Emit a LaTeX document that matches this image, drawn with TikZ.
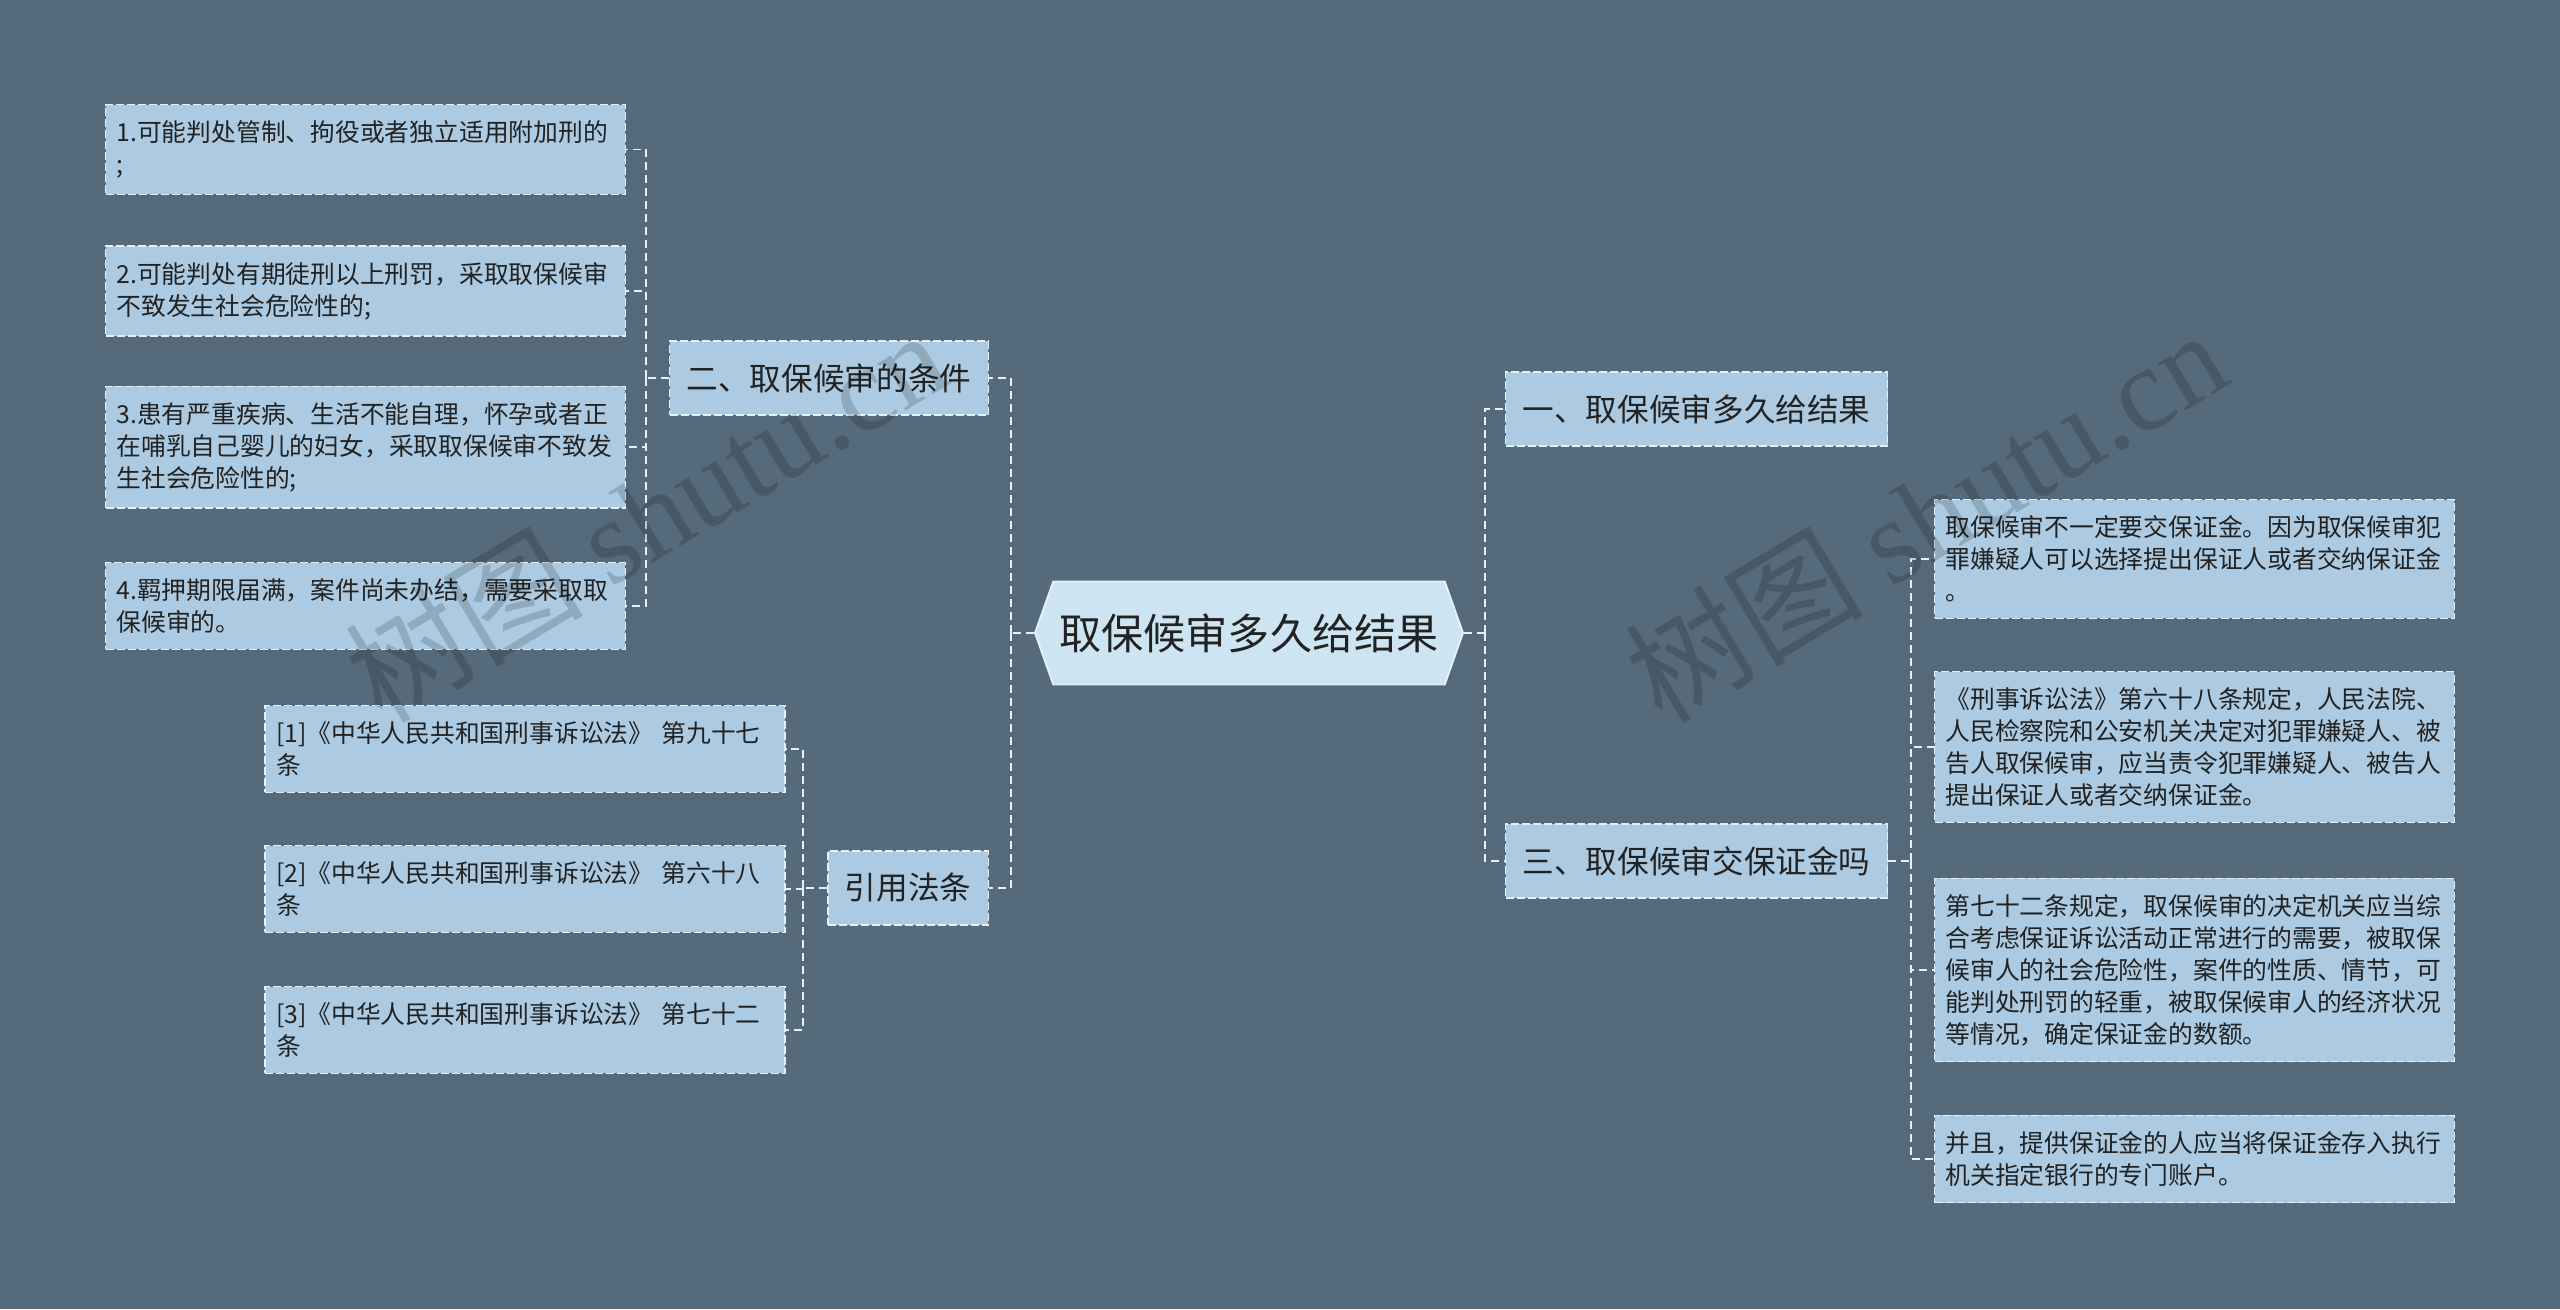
\documentclass[tikz,border=0pt]{standalone}
\usepackage{fontspec}
\setmainfont{Noto Sans CJK SC}
\newfontfamily\wmlatin{Liberation Serif}
\usepackage{tikz}
\usetikzlibrary{shapes.symbols}
\definecolor{mbg}{HTML}{556A7A}
\definecolor{mbox}{HTML}{ACCBE2}
\definecolor{mroot}{HTML}{CDE5F2}
\definecolor{mline}{HTML}{E3F0F7}
\definecolor{mtext}{HTML}{222222}
\tikzset{
  % dashed light rim around every topic box
  leaf/.style   = {rectangle, draw=mline, fill=mbox, line width=0.8pt,
                   dash pattern=on 0.16cm off 0.06cm, text=mtext,
                   align=left, text width=9.96cm, inner xsep=0.22cm, inner ysep=0.32cm,
                   font=\fontsize{14.1pt}{18.2pt}\selectfont},
  branch/.style = {rectangle, draw=mline, fill=mbox, line width=0.8pt,
                   dash pattern=on 0.16cm off 0.06cm, text=mtext,
                   inner xsep=0.34cm, minimum height=1.48cm,
                   font=\fontsize{18pt}{22pt}\selectfont},
  hub/.style    = {signal, signal to=west and east, signal pointer angle=141,
                   draw=mline, fill=mroot, line width=1.1pt, text=mtext,
                   minimum width=8.56cm, minimum height=2.06cm,
                   font=\fontsize{24pt}{28pt}\selectfont},
  link/.style   = {draw=mline, line width=1.1pt, dash pattern=on 0.16cm off 0.1cm},
  wmark/.style  = {text=black, opacity=0.16, font=\fontsize{68pt}{68pt}\selectfont},
}

\begin{document}
\begin{tikzpicture}[x=0.02cm,y=-0.02cm]
\fill[mbg] (0,0) rectangle (2560,1309);
\useasboundingbox (0,0) rectangle (2560,1309);
% centre
\node[hub] (root) at (1249,633) {取保候审多久给结果};
% left side
\node[branch, anchor=east] (cond) at (989,378) {二、取保候审的条件};
\node[branch, anchor=east] (refs) at (989,888) {引用法条};
\node[leaf] (c1) at (365.5,149.5) {1.可能判处管制、拘役或者独立适用附加刑的\\;};
\node[leaf] (c2) at (365.5,291) {2.可能判处有期徒刑以上刑罚，采取取保候审\\不致发生社会危险性的;};
\node[leaf] (c3) at (365.5,447) {3.患有严重疾病、生活不能自理，怀孕或者正\\在哺乳自己婴儿的妇女，采取取保候审不致发\\生社会危险性的;};
\node[leaf] (c4) at (365.5,606) {4.羁押期限届满，案件尚未办结，需要采取取\\保候审的。};
\node[leaf] (f1) at (525,749) {[1]《中华人民共和国刑事诉讼法》 第九十七\\条};
\node[leaf] (f2) at (525,889) {[2]《中华人民共和国刑事诉讼法》 第六十八\\条};
\node[leaf] (f3) at (525,1030) {[3]《中华人民共和国刑事诉讼法》 第七十二\\条};
% right side
\node[branch, anchor=west] (b1) at (1505,409) {一、取保候审多久给结果};
\node[branch, anchor=west] (b3) at (1505,861) {三、取保候审交保证金吗};
\node[leaf] (d1) at (2194.5,559) {取保候审不一定要交保证金。因为取保候审犯\\罪嫌疑人可以选择提出保证人或者交纳保证金\\。};
\node[leaf] (d2) at (2194.5,747) {《刑事诉讼法》第六十八条规定，人民法院、\\人民检察院和公安机关决定对犯罪嫌疑人、被\\告人取保候审，应当责令犯罪嫌疑人、被告人\\提出保证人或者交纳保证金。};
\node[leaf] (d3) at (2194.5,970) {第七十二条规定，取保候审的决定机关应当综\\合考虑保证诉讼活动正常进行的需要，被取保\\候审人的社会危险性，案件的性质、情节，可\\能判处刑罚的轻重，被取保候审人的经济状况\\等情况，确定保证金的数额。};
\node[leaf] (d4) at (2194.5,1159) {并且，提供保证金的人应当将保证金存入执行\\机关指定银行的专门账户。};
% connectors
\coordinate (jl) at ([xshift=-0.46cm]root.west);
\coordinate (jr) at ([xshift=0.42cm]root.east);
\coordinate (jc) at ([xshift=-0.46cm]cond.west);
\coordinate (jf) at ([xshift=-0.48cm]refs.west);
\coordinate (jd) at ([xshift=0.46cm]b3.east);
\draw[link] (root.west) -- (jl);
\draw[link] (root.east) -- (jr);
\draw[link] (cond.west) -- (jc);
\draw[link] (refs.west) -- (jf);
\draw[link] (b3.east) -- (jd);
\foreach \n in {cond,refs} {\draw[link] (jl) |- (\n.east);}
\foreach \n in {b1,b3} {\draw[link] (jr) |- (\n.west);}
\foreach \n in {c1,c2,c3,c4} {\draw[link] (jc) |- (\n.east);}
\foreach \n in {f1,f2,f3} {\draw[link] (jf) |- (\n.east);}
\foreach \n in {d1,d2,d3,d4} {\draw[link] (jd) |- (\n.west);}
% watermarks
\node[wmark, rotate=31] (wm1) at (645,515) {树图 {\wmlatin shutu.cn}};
\node[wmark, rotate=31] (wm2) at (1925,515) {树图 {\wmlatin shutu.cn}};
\end{tikzpicture}
\end{document}
